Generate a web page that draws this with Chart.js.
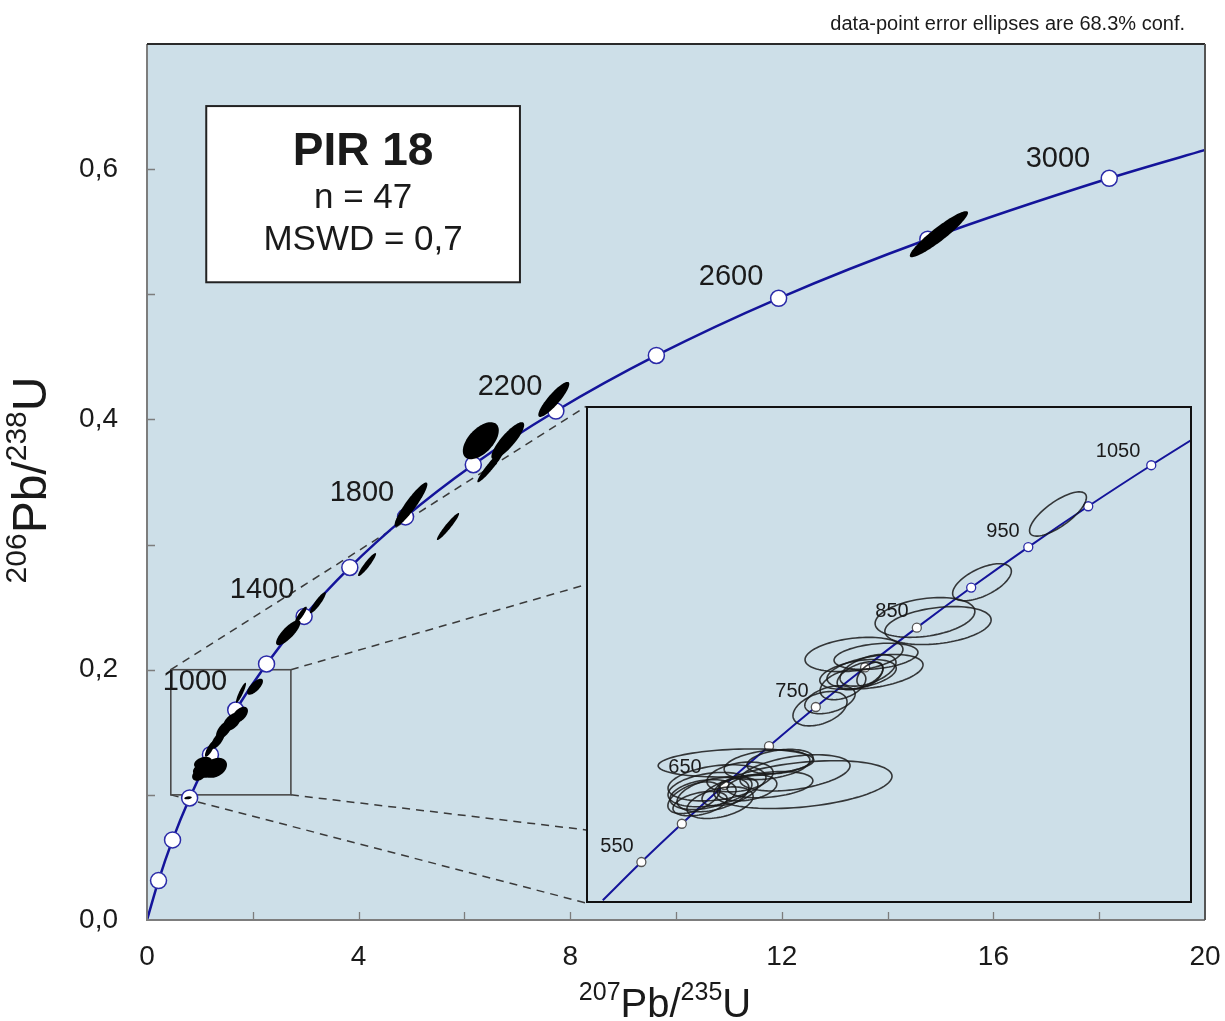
<!DOCTYPE html>
<html>
<head>
<meta charset="utf-8">
<script src="https://cdn.jsdelivr.net/npm/chart.js@4.4.0/dist/chart.umd.min.js"></script>
<style>
  body { margin: 0; background: #fff; }
  #wrap { position: relative; width: 1225px; height: 1021px; }
  #insetBox { position: absolute; }
</style>
</head>
<body>
<div id="wrap">
  <canvas id="main" width="1225" height="1021"></canvas>
  <div id="insetBox"><canvas id="inset"></canvas></div>
</div>
<script>
// concordia age marks (Ma) and their ratios, main plot
const mainAges = [200, 400, 600, 800, 1000, 1200, 1400, 1600, 1800, 2000, 2200, 2400, 2600, 2800, 3000];
const mainX = [0.218, 0.483, 0.806, 1.199, 1.677, 2.260, 2.970, 3.834, 4.887, 6.168, 7.729, 9.629, 11.94, 14.76, 18.19];
const mainY = [0.0315, 0.0640, 0.0975, 0.1321, 0.1678, 0.2046, 0.2426, 0.2817, 0.3221, 0.3638, 0.4067, 0.4511, 0.4968, 0.5440, 0.5927];
const mainLabelAges = [1000, 1400, 1800, 2200, 2600, 3000];

// inset concordia marks
const insetAges = [550, 600, 650, 700, 750, 800, 850, 900, 950, 1000, 1050];
const insetX = [0.7188, 0.8056, 0.8968, 0.9926, 1.0930, 1.1987, 1.3097, 1.4263, 1.5488, 1.6774, 1.8126];
const insetY = [0.08907, 0.09754, 0.10609, 0.11470, 0.12338, 0.13214, 0.14094, 0.14982, 0.15878, 0.16781, 0.17689];
const insetLabelAges = [550, 650, 750, 850, 950, 1050];

// filled error ellipses on main plot: centre, half extents, correlation
const mX = [1.134, 1.285, 1.059, 0.983, 1.19, 1.342, 1.456, 1.607, 1.758, 1.777, 2.042, 0.775,
            2.67, 2.91, 3.23, 4.16, 4.99, 5.69, 6.31, 6.50, 6.82, 7.69, 14.97];
const mY = [0.120, 0.1216, 0.1256, 0.116, 0.1368, 0.144, 0.152, 0.1584, 0.164, 0.1816, 0.1864, 0.0976,
            0.2296, 0.244, 0.2536, 0.284, 0.332, 0.3144, 0.383, 0.363, 0.383, 0.416, 0.548];
const mSx = [0.265, 0.227, 0.17, 0.13, 0.095, 0.13, 0.15, 0.17, 0.15, 0.095, 0.15, 0.07,
             0.23, 0.11, 0.15, 0.17, 0.31, 0.21, 0.34, 0.255, 0.31, 0.293, 0.55];
const mSy = [0.0064, 0.008, 0.0048, 0.0048, 0.0064, 0.0072, 0.0072, 0.0072, 0.0064, 0.008, 0.0064, 0.0012,
             0.010, 0.0064, 0.0084, 0.0092, 0.0176, 0.0108, 0.0148, 0.0132, 0.0148, 0.014, 0.0184];
const mRho = [0.2, 0.3, 0.3, 0.3, 0.8, 0.7, 0.6, 0.5, 0.5, 0.9, 0.7, 0.3,
              0.8, 0.88, 0.9, 0.93, 0.92, 0.95, 0.55, 0.95, 0.85, 0.88, 0.93];

// open error ellipses in the inset
const insX = [0.9218, 1.0655, 1.0484, 0.9883, 1.0162, 0.8660, 0.8510, 0.8875, 0.8810, 0.8724, 0.9304, 0.9454, 0.9947, 0.8317, 0.8446, 0.9089,
              1.1020, 1.1749, 1.2221, 1.1835, 1.2200, 1.1878, 1.2050, 1.2092, 1.1513, 1.1234,
              1.3272, 1.3551, 1.4495, 1.6125];
const insY = [0.1110, 0.1062, 0.1088, 0.1106, 0.1113, 0.1051, 0.1040, 0.1022, 0.1066, 0.1040, 0.1079, 0.1055, 0.1062, 0.1033, 0.1020, 0.1046,
              0.1230, 0.1350, 0.1346, 0.1306, 0.1312, 0.1303, 0.1315, 0.1306, 0.1283, 0.1250,
              0.1432, 0.1414, 0.1510, 0.1661];
const insSx = [0.167, 0.191, 0.118, 0.092, 0.071, 0.090, 0.071, 0.071, 0.105, 0.077, 0.071, 0.064, 0.092, 0.056, 0.058, 0.060,
               0.058, 0.105, 0.090, 0.082, 0.103, 0.049, 0.060, 0.028, 0.049, 0.054,
               0.107, 0.114, 0.063, 0.061];
const insSy = [0.0031, 0.0053, 0.0040, 0.0033, 0.0027, 0.0038, 0.0033, 0.0035, 0.0040, 0.0038, 0.0033, 0.0029, 0.0029, 0.0035, 0.0027, 0.0031,
               0.0038, 0.0038, 0.0029, 0.0033, 0.0038, 0.0031, 0.0035, 0.0027, 0.0033, 0.0031,
               0.0044, 0.0042, 0.0041, 0.0049];
const insRho = [0.2, 0.35, 0.4, 0.3, 0.3, 0.3, 0.3, 0.4, 0.3, 0.4, 0.3, 0.3, 0.3, 0.5, 0.4, 0.5,
                0.4, 0.3, 0.3, 0.4, 0.4, 0.5, 0.5, 0.5, 0.4, 0.4,
                0.3, 0.3, 0.6, 0.75];

const FONT = '"Liberation Sans", Arial, Helvetica, sans-serif';
const BG = '#cddfe8';
const BLUE = '#14149a';

// layout bits (data coords of the main plot)
const zoomBox = { x0: 0.45, x1: 2.72, y0: 0.1, y1: 0.2 };
const insetRect = { x0: 8.3, x1: 19.75, y0: 0.0136, y1: 0.4104 };
const legendRect = { x0: 1.12, x1: 7.05, y0: 0.5096, y1: 0.6504 };
const mainLabelPos = [[0.907, 0.1904], [2.174, 0.264], [4.064, 0.3416], [6.862, 0.4256], [11.04, 0.5136], [17.22, 0.608]];
const insetLabelPos = [[0.6665, 0.0924], [0.8124, 0.1099], [1.0419, 0.1268], [1.2564, 0.1445], [1.4946, 0.1623], [1.7413, 0.1800]];

function ellipsePath(ctx, xs, ys, cx, cy, sx, sy, rho) {
  const k = Math.sqrt(1 - rho * rho);
  ctx.beginPath();
  for (let i = 0; i <= 90; i++) {
    const t = i / 90 * 2 * Math.PI;
    const px = xs.getPixelForValue(cx + sx * Math.cos(t));
    const py = ys.getPixelForValue(cy + sy * (rho * Math.cos(t) + k * Math.sin(t)));
    if (i === 0) ctx.moveTo(px, py); else ctx.lineTo(px, py);
  }
  ctx.closePath();
}

// text with superscript parts, centred on x
function drawRich(ctx, parts, x, y, big, small) {
  let w = 0;
  parts.forEach(p => {
    ctx.font = (p[1] ? small : big) + 'px ' + FONT;
    w += ctx.measureText(p[0]).width;
  });
  let cx = x - w / 2;
  ctx.textAlign = 'left';
  ctx.textBaseline = 'alphabetic';
  parts.forEach(p => {
    ctx.font = (p[1] ? small : big) + 'px ' + FONT;
    ctx.fillText(p[0], cx, p[1] ? y - big * 0.42 : y);
    cx += ctx.measureText(p[0]).width;
  });
}

// white age markers with outline, drawn by hand so the fill is opaque
function drawMarkers(ctx, xs, ys, xv, yv, r, colors, lw) {
  ctx.lineWidth = lw;
  xv.forEach((v, i) => {
    ctx.beginPath();
    ctx.arc(xs.getPixelForValue(v), ys.getPixelForValue(yv[i]), r, 0, Math.PI * 2);
    ctx.fillStyle = '#fff';
    ctx.fill();
    ctx.strokeStyle = colors[i];
    ctx.stroke();
  });
}

const mainPlugin = {
  id: 'mainDecor',
  beforeDatasetsDraw(chart) {
    const { ctx, chartArea: a, scales: { x, y } } = chart;
    ctx.save();
    ctx.fillStyle = BG;
    ctx.fillRect(a.left, a.top, a.right - a.left, a.bottom - a.top);

    // dashed connectors from zoom box to inset
    ctx.strokeStyle = '#3a3a3a';
    ctx.lineWidth = 1.5;
    ctx.setLineDash([8, 6]);
    const lines = [
      [zoomBox.x0, zoomBox.y1, insetRect.x0, insetRect.y1],
      [zoomBox.x1, zoomBox.y1, insetRect.x0, 0.268],
      [zoomBox.x1, zoomBox.y0, insetRect.x0, 0.072],
      [zoomBox.x0, zoomBox.y0, insetRect.x0, insetRect.y0]
    ];
    lines.forEach(l => {
      ctx.beginPath();
      ctx.moveTo(x.getPixelForValue(l[0]), y.getPixelForValue(l[1]));
      ctx.lineTo(x.getPixelForValue(l[2]), y.getPixelForValue(l[3]));
      ctx.stroke();
    });
    ctx.setLineDash([]);

    // zoom box
    ctx.strokeStyle = '#4a4a4a';
    ctx.lineWidth = 1.6;
    const bx = x.getPixelForValue(zoomBox.x0), by = y.getPixelForValue(zoomBox.y1);
    ctx.strokeRect(bx, by, x.getPixelForValue(zoomBox.x1) - bx, y.getPixelForValue(zoomBox.y0) - by);
    ctx.restore();
  },
  afterDatasetsDraw(chart) {
    const { ctx, chartArea: a, scales: { x, y } } = chart;
    ctx.save();
    drawMarkers(ctx, x, y, mainX, mainY, 8, mainAges.map(() => '#2a2aa8'), 1.5);
    // filled ellipses
    ctx.fillStyle = '#000';
    for (let i = 0; i < mX.length; i++) {
      ellipsePath(ctx, x, y, mX[i], mY[i], mSx[i], mSy[i], mRho[i]);
      ctx.fill();
    }
    // age labels
    ctx.fillStyle = '#1a1a1a';
    ctx.font = '29px ' + FONT;
    ctx.textAlign = 'center';
    ctx.textBaseline = 'middle';
    mainLabelAges.forEach((age, i) => {
      ctx.fillText(String(age), x.getPixelForValue(mainLabelPos[i][0]), y.getPixelForValue(mainLabelPos[i][1]));
    });

    // frame
    ctx.lineWidth = 2;
    ctx.strokeStyle = '#7d7d7d';
    ctx.beginPath();
    ctx.moveTo(a.left, a.top); ctx.lineTo(a.left, a.bottom); ctx.lineTo(a.right, a.bottom);
    ctx.stroke();
    ctx.strokeStyle = '#2a2a2a';
    ctx.beginPath();
    ctx.moveTo(a.left, a.top); ctx.lineTo(a.right, a.top);
    ctx.stroke();
    ctx.strokeStyle = '#555';
    ctx.beginPath();
    ctx.moveTo(a.right, a.top); ctx.lineTo(a.right, a.bottom);
    ctx.stroke();

    // inside ticks
    ctx.strokeStyle = '#7d7d7d';
    ctx.lineWidth = 1.3;
    ctx.beginPath();
    for (let v = 1; v <= 6; v++) {
      const py = Math.round(y.getPixelForValue(v / 10)) + 0.5;
      ctx.moveTo(a.left, py); ctx.lineTo(a.left + 8, py);
    }
    for (let v = 2; v <= 18; v += 2) {
      const px = Math.round(x.getPixelForValue(v)) + 0.5;
      ctx.moveTo(px, a.bottom); ctx.lineTo(px, a.bottom - 8);
    }
    ctx.stroke();

    // legend box
    const lx = x.getPixelForValue(legendRect.x0), ly = y.getPixelForValue(legendRect.y1);
    const lw = x.getPixelForValue(legendRect.x1) - lx, lh = y.getPixelForValue(legendRect.y0) - ly;
    ctx.fillStyle = '#fff';
    ctx.fillRect(lx, ly, lw, lh);
    ctx.strokeStyle = '#222';
    ctx.lineWidth = 2;
    ctx.strokeRect(lx, ly, lw, lh);
    ctx.fillStyle = '#1a1a1a';
    ctx.textAlign = 'center';
    ctx.textBaseline = 'middle';
    ctx.font = 'bold 46px ' + FONT;
    ctx.fillText('PIR 18', lx + lw / 2, ly + 46);
    ctx.font = '35px ' + FONT;
    ctx.fillText('n = 47', lx + lw / 2, ly + 92);
    ctx.fillText('MSWD = 0,7', lx + lw / 2, ly + 134);

    // note at top
    ctx.font = '20px ' + FONT;
    ctx.textAlign = 'right';
    ctx.textBaseline = 'alphabetic';
    ctx.fillText('data-point error ellipses are 68.3% conf.', a.right - 20, 30);

    // axis titles
    drawRich(ctx, [['207', true], ['Pb/', false], ['235', true], ['U', false]], 665, 1017, 40, 25);
    ctx.translate(46, 480);
    ctx.rotate(-Math.PI / 2);
    drawRich(ctx, [['206', true], ['Pb/', false], ['238', true], ['U', false]], 0, 0, 48, 30);
    ctx.restore();
  }
};

const curveX = [0].concat(mainX, [20.18]);
const curveY = [0].concat(mainY, [0.6175]);

const mainChart = new Chart(document.getElementById('main'), {
  type: 'scatter',
  data: {
    datasets: [
      {
        data: curveX.map((v, i) => ({ x: v, y: curveY[i] })),
        showLine: true,
        borderColor: BLUE,
        borderWidth: 2.5,
        pointRadius: 0,
        cubicInterpolationMode: 'monotone'
      }
    ]
  },
  options: {
    responsive: false,
    animation: false,
    devicePixelRatio: 1,
    layout: { padding: { top: 44, right: 20, left: 0, bottom: 0 } },
    plugins: { legend: { display: false }, tooltip: { enabled: false } },
    scales: {
      x: {
        type: 'linear', min: 0, max: 20,
        afterFit(s) { s.height = 101; s.paddingLeft = 0; s.paddingRight = 0; },
        grid: { display: false, drawTicks: false },
        border: { display: false },
        ticks: { stepSize: 4, padding: 20, color: '#1a1a1a', font: { family: FONT, size: 28 }, maxRotation: 0 }
      },
      y: {
        type: 'linear', min: 0, max: 0.7,
        afterFit(s) { s.width = 147; s.paddingTop = 0; s.paddingBottom = 0; },
        grid: { display: false, drawTicks: false },
        border: { display: false },
        ticks: {
          stepSize: 0.1, padding: 29, color: '#1a1a1a', font: { family: FONT, size: 28 },
          callback: v => (Math.round(v * 10) % 2 === 0 ? v.toFixed(1).replace('.', ',') : '')
        }
      }
    }
  },
  plugins: [mainPlugin]
});

// place the inset over the main plot
const mxs = mainChart.scales.x, mys = mainChart.scales.y;
const iL = Math.round(mxs.getPixelForValue(insetRect.x0));
const iR = Math.round(mxs.getPixelForValue(insetRect.x1));
const iT = Math.round(mys.getPixelForValue(insetRect.y1));
const iB = Math.round(mys.getPixelForValue(insetRect.y0));
const box = document.getElementById('insetBox');
box.style.left = iL + 'px';
box.style.top = iT + 'px';
const insetCanvas = document.getElementById('inset');
insetCanvas.width = iR - iL;
insetCanvas.height = iB - iT;

const insetPlugin = {
  id: 'insetDecor',
  beforeDatasetsDraw(chart) {
    const { ctx, width, height } = chart;
    ctx.save();
    ctx.fillStyle = BG;
    ctx.fillRect(0, 0, width, height);
    ctx.restore();
  },
  afterDatasetsDraw(chart) {
    const { ctx, width, height, scales: { x, y } } = chart;
    ctx.save();
    ctx.beginPath();
    ctx.rect(0, 0, width, height);
    ctx.clip();
    drawMarkers(ctx, x, y, insetX, insetY, 4.5, insetAges.map(a => (a >= 900 ? '#2a2aa8' : '#555')), 1.3);
    ctx.strokeStyle = 'rgba(25,25,25,0.85)';
    ctx.lineWidth = 1.6;
    for (let i = 0; i < insX.length; i++) {
      ellipsePath(ctx, x, y, insX[i], insY[i], insSx[i], insSy[i], insRho[i]);
      ctx.stroke();
    }
    ctx.fillStyle = '#1a1a1a';
    ctx.font = '20px ' + FONT;
    ctx.textAlign = 'center';
    ctx.textBaseline = 'middle';
    insetLabelAges.forEach((age, i) => {
      ctx.fillText(String(age), x.getPixelForValue(insetLabelPos[i][0]), y.getPixelForValue(insetLabelPos[i][1]));
    });
    ctx.strokeStyle = '#111';
    ctx.lineWidth = 2;
    ctx.strokeRect(1, 1, width - 2, height - 2);
    ctx.restore();
  }
};

const insetCurveX = [0.6360].concat(insetX, [1.9546]);
const insetCurveY = [0.0806].concat(insetY, [0.18605]);

new Chart(insetCanvas, {
  type: 'scatter',
  data: {
    datasets: [
      {
        data: insetCurveX.map((v, i) => ({ x: v, y: insetCurveY[i] })),
        showLine: true,
        borderColor: BLUE,
        borderWidth: 2,
        pointRadius: 0,
        cubicInterpolationMode: 'monotone'
      }
    ]
  },
  options: {
    responsive: false,
    animation: false,
    devicePixelRatio: 1,
    layout: { padding: 0 },
    plugins: { legend: { display: false }, tooltip: { enabled: false } },
    scales: {
      x: { type: 'linear', min: 0.6, max: 1.9, display: false },
      y: { type: 'linear', min: 0.08, max: 0.19, display: false }
    }
  },
  plugins: [insetPlugin]
});
</script>
</body>
</html>
